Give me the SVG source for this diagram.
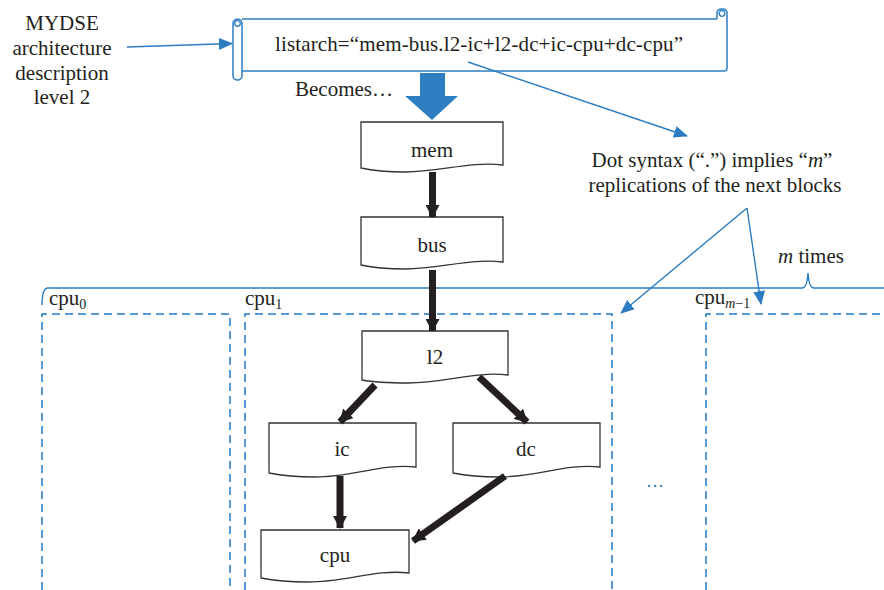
<svg xmlns="http://www.w3.org/2000/svg" width="884" height="590" viewBox="0 0 884 590" font-family="'Liberation Serif', 'DejaVu Serif', serif">
<style>
  text { font-family: "Liberation Serif", "DejaVu Serif", serif; fill: #231f20; }
  .t { font-size: 21px; }
  .lbl { font-size: 21px; text-anchor: middle; }
  .sub { font-size: 14px; }
  .doc { fill: #fff; stroke: #333; stroke-width: 1.3; }
  .blue { fill: none; stroke: #2b7cc0; stroke-width: 1.4; }
  .dash { fill: none; stroke: #1f78c8; stroke-width: 1.5; stroke-dasharray: 8 5; }
  .flow { stroke: #231f20; stroke-width: 7; fill: none; }
</style>
<defs>
  <marker id="bk" markerUnits="userSpaceOnUse" markerWidth="14" markerHeight="14" refX="12" refY="7" orient="auto">
    <path d="M0,0 L13,7 L0,14 Z" fill="#231f20"/>
  </marker>
  <marker id="bl" markerUnits="userSpaceOnUse" markerWidth="14" markerHeight="12" refX="13" refY="6" orient="auto">
    <path d="M0,0 L14,6 L0,12 Z" fill="#2b7cc0"/>
  </marker>
</defs>

<g id="mydse">
  <text class="lbl" x="62" y="30">MYDSE</text>
  <text class="lbl" x="62" y="55">architecture</text>
  <text class="lbl" x="62" y="80">description</text>
  <text class="lbl" x="62" y="104">level 2</text>
</g>

<g id="scroll">
  <path d="M242,19 H717 M727,13 V68 Q727,71 724,71 H242" fill="none" stroke="#2b7cc0" stroke-width="1.5"/>
  <path d="M717,19 V13 Q717,9 722,9 Q727,9 727,13" fill="none" stroke="#2b7cc0" stroke-width="1.5"/>
  <circle cx="722" cy="13.5" r="2.8" fill="none" stroke="#2b7cc0" stroke-width="1.3"/>
  <rect x="233" y="19" width="9" height="61" rx="4.5" fill="#fff" stroke="#2b7cc0" stroke-width="1.5"/>
  <circle cx="237.5" cy="23.5" r="2.8" fill="none" stroke="#2b7cc0" stroke-width="1.3"/>
  <text class="t" x="275" y="51" textLength="408">listarch=“mem-bus.l2-ic+l2-dc+ic-cpu+dc-cpu”</text>
</g>

<g id="becomes">
  <text class="t" x="295" y="96">Becomes…</text>
  <polygon points="420,73 445,73 445,96 458,96 432,120 405,96 420,96" fill="#2e7fc1"/>
</g>

<g id="dotnote">
  <text class="lbl" x="712" y="167">Dot syntax (“.”) implies “<tspan font-style="italic">m</tspan>”</text>
  <text class="lbl" x="715" y="192">replications of the next blocks</text>
</g>

<g id="bracket">
  <path d="M42,305 Q42,288 48,288 H802 Q807,288 808,273 Q809,288 814,288 H884" class="blue"/>
  <text class="t" x="778" y="263"><tspan font-style="italic">m</tspan> times</text>
</g>

<g id="cpu0-frame">
  <path class="dash" d="M42,590 V314 H230 V590"/>
  <text class="t" x="49" y="305">cpu<tspan class="sub" dy="4">0</tspan></text>
</g>
<g id="cpu1-frame">
  <path class="dash" d="M245,590 V314 H612 V590"/>
  <text class="t" x="245" y="305">cpu<tspan class="sub" dy="4">1</tspan></text>
</g>
<g id="cpum-frame">
  <path class="dash" d="M706,590 V314 H884"/>
  <text class="t" x="695" y="304">cpu<tspan class="sub" dy="4"><tspan font-style="italic">m</tspan>−1</tspan></text>
</g>
<g id="ellipsis">
  <text x="646" y="487" font-size="18" style="fill:#2b7cc0">…</text>
</g>

<g id="mem">
  <path class="doc" d="M361,122 H503 V165 C470,161 440,172 405,172 C385,172 370,170 361,168 Z"/>
  <text class="lbl" x="432" y="157">mem</text>
</g>
<g id="bus">
  <path class="doc" d="M361,217 H503 V262 C470,258 440,269 405,269 C385,269 370,267 361,265 Z"/>
  <text class="lbl" x="432" y="252">bus</text>
</g>
<g id="l2">
  <path class="doc" d="M362,331 H508 V375 C475,371 445,383 408,383 C388,383 372,382 362,380 Z"/>
  <text class="lbl" x="435" y="364">l2</text>
</g>
<g id="ic">
  <path class="doc" d="M269,423 H416 V467 C383,463 353,477 315,477 C295,477 279,475 269,473 Z"/>
  <text class="lbl" x="342" y="456">ic</text>
</g>
<g id="dc">
  <path class="doc" d="M453,423 H600 V467 C567,463 537,477 499,477 C479,477 463,475 453,473 Z"/>
  <text class="lbl" x="526" y="456">dc</text>
</g>
<g id="cpu">
  <path class="doc" d="M261,530 H409 V573 C376,569 346,582 308,582 C288,582 271,580 261,578 Z"/>
  <text class="lbl" x="335" y="562">cpu</text>
</g>

<g id="connectors">
  <line class="flow" x1="432.5" y1="172" x2="432.5" y2="217" marker-end="url(#bk)"/>
  <line class="flow" x1="432.5" y1="270" x2="432.5" y2="331" marker-end="url(#bk)"/>
  <line class="flow" x1="375" y1="385" x2="340" y2="422" marker-end="url(#bk)"/>
  <line class="flow" x1="479" y1="377" x2="527" y2="422" marker-end="url(#bk)"/>
  <line class="flow" x1="340" y1="476" x2="340" y2="528" marker-end="url(#bk)"/>
  <line class="flow" x1="505" y1="476" x2="413" y2="541" marker-end="url(#bk)"/>
  <line class="blue" x1="127" y1="47" x2="232" y2="43.5" marker-end="url(#bl)"/>
  <line class="blue" x1="468" y1="62" x2="687" y2="136" marker-end="url(#bl)"/>
  <line class="blue" x1="747" y1="208" x2="621" y2="313" marker-end="url(#bl)"/>
  <line class="blue" x1="747" y1="208" x2="761" y2="304" marker-end="url(#bl)"/>
</g>
</svg>
